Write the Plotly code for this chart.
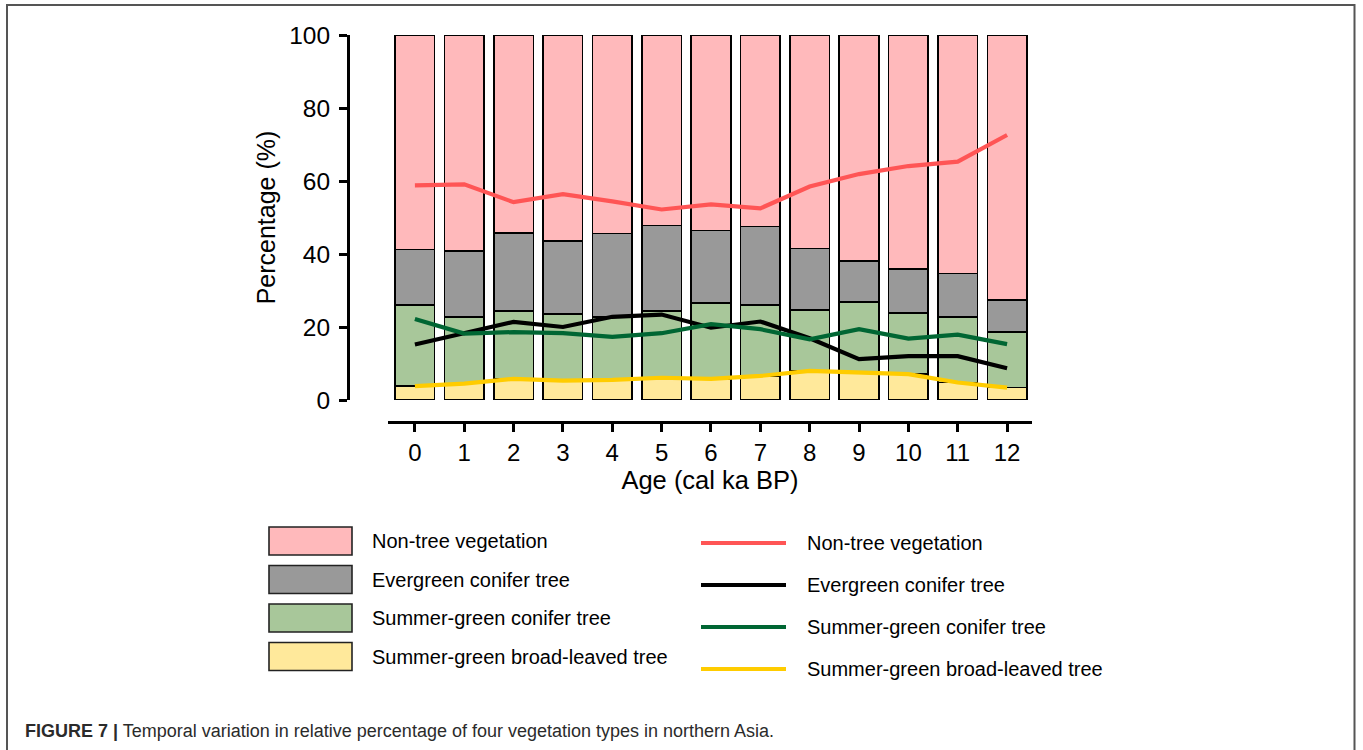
import plotly.graph_objects as go

# Age slices (cal ka BP)
ages = [0, 1, 2, 3, 4, 5, 6, 7, 8, 9, 10, 11, 12]
age_labels = [str(a) for a in ages]

# Relative percentage of each vegetation type (%)
non_tree = [58.8, 59.1, 54.2, 56.4, 54.4, 52.2, 53.6, 52.5, 58.5, 61.9, 64.1, 65.3, 72.6]
evergreen_conifer = [15.2, 18.2, 21.4, 20.0, 22.8, 23.4, 19.8, 21.5, 16.9, 11.2, 12.0, 12.0, 8.7]
summergreen_conifer = [22.2, 18.2, 18.6, 18.3, 17.3, 18.3, 20.8, 19.4, 16.6, 19.4, 16.8, 17.9, 15.3]
summergreen_broadleaf = [3.8, 4.5, 5.8, 5.3, 5.5, 6.1, 5.8, 6.6, 8.0, 7.5, 7.1, 4.8, 3.4]

type_names = ["Non-tree vegetation", "Evergreen conifer tree",
              "Summer-green conifer tree", "Summer-green broad-leaved tree"]
y_ticks = [0, 20, 40, 60, 80, 100]

bar_colors = ["#FFB9BB", "#999999", "#A8C79A", "#FFE99B"]
line_colors = ["#FF5555", "#000000", "#006633", "#FFCC00"]

W, H = 1363, 750
FONT = "Liberation Sans, Arial, sans-serif"


def px(x):
    return x / W


def py(y):
    return 1 - y / H


series = [non_tree, evergreen_conifer, summergreen_conifer, summergreen_broadleaf]

fig = go.Figure()

# Stacked bars: broad-leaved at the bottom, non-tree on top
for idx in [3, 2, 1, 0]:
    fig.add_trace(go.Bar(
        x=ages, y=series[idx], name=type_names[idx],
        marker=dict(color=bar_colors[idx], line=dict(color="black", width=1.6)),
        width=0.8, showlegend=False,
    ))

# Percentage curves drawn over the bars
for idx in [0, 1, 2, 3]:
    fig.add_trace(go.Scatter(
        x=ages, y=series[idx], mode="lines", name=type_names[idx],
        line=dict(color=line_colors[idx], width=4.2), showlegend=False,
    ))

shapes = []
annotations = []

# Legend: filled boxes (bars) on the left, line keys on the right
box_top, box_step, box_h = 527, 38.5, 28
line_top, line_step = 543, 42
for i, name in enumerate(type_names):
    y0 = box_top + i * box_step
    shapes.append(dict(type="rect", xref="paper", yref="paper",
                       x0=px(269), x1=px(352), y0=py(y0), y1=py(y0 + box_h),
                       fillcolor=bar_colors[i], line=dict(color="#222222", width=1.6)))
    annotations.append(dict(text=name, xref="paper", yref="paper",
                            x=px(370), y=py(y0 + box_h / 2), xanchor="left", yanchor="middle",
                            showarrow=False, font=dict(size=20, color="black", family=FONT)))
    ly = line_top + i * line_step
    shapes.append(dict(type="line", xref="paper", yref="paper",
                       x0=px(701), x1=px(786), y0=py(ly), y1=py(ly),
                       line=dict(color=line_colors[i], width=4.2)))
    annotations.append(dict(text=name, xref="paper", yref="paper",
                            x=px(805), y=py(ly), xanchor="left", yanchor="middle",
                            showarrow=False, font=dict(size=20, color="black", family=FONT)))

# Figure frame
shapes.append(dict(type="rect", xref="paper", yref="paper",
                   x0=px(7), x1=px(1354.5), y0=py(5), y1=py(790),
                   line=dict(color="#555555", width=2), fillcolor="rgba(0,0,0,0)", layer="below"))

# Caption
annotations.append(dict(
    text="<b>FIGURE 7 |</b> Temporal variation in relative percentage of four vegetation types in northern Asia.",
    xref="paper", yref="paper", x=px(23), y=py(731), xanchor="left", yanchor="middle",
    showarrow=False, font=dict(size=18, color="#2b2b2b", family=FONT)))

fig.update_layout(
    width=W, height=H, autosize=False,
    margin=dict(l=0, r=0, t=0, b=0),
    paper_bgcolor="white", plot_bgcolor="white",
    barmode="stack",
    font=dict(family=FONT, color="black"),
    xaxis=dict(
        domain=[px(388), px(1032)], range=[-0.545, 12.505],
        anchor="free", position=py(422),
        tickmode="array", tickvals=ages, ticktext=age_labels,
        showline=True, linecolor="black", linewidth=3,
        ticks="outside", ticklen=8, tickwidth=3, tickcolor="black",
        tickfont=dict(size=24, family=FONT, color="black"),
        title=dict(text="Age (cal ka BP)", font=dict(size=25.5, family=FONT, color="black"), standoff=6),
        showgrid=False, zeroline=False, automargin=False,
    ),
    yaxis=dict(
        domain=[py(400), py(35)], range=[0, 100],
        anchor="free", position=px(348),
        tickmode="array", tickvals=y_ticks, ticktext=[str(v) for v in y_ticks],
        showline=True, linecolor="black", linewidth=3,
        ticks="outside", ticklen=8, tickwidth=3, tickcolor="black",
        ticklabelstandoff=4,
        tickfont=dict(size=24.5, family=FONT, color="black"),
        title=dict(text="Percentage (%)", font=dict(size=25, family=FONT, color="black"), standoff=5),
        showgrid=False, zeroline=False, automargin=False,
    ),
    shapes=shapes,
    annotations=annotations,
)

fig.write_html("out.html")
